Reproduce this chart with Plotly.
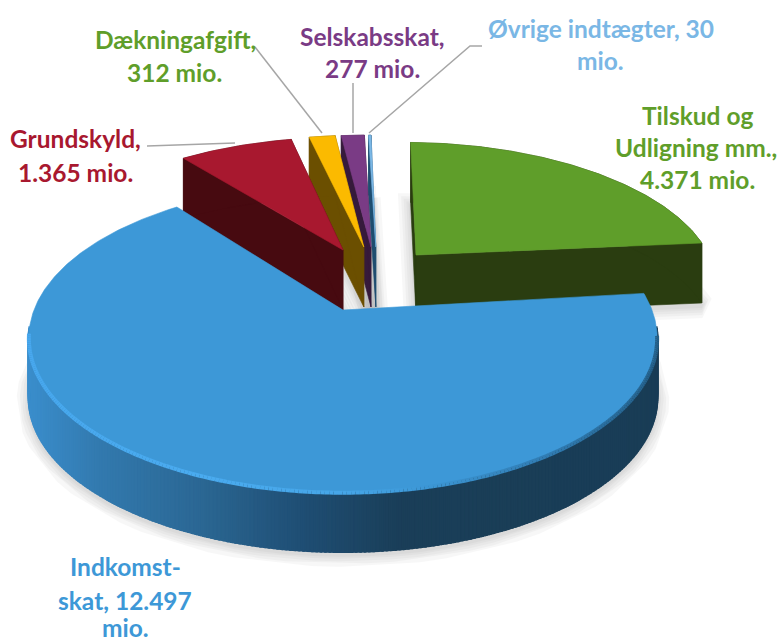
import numpy as np
import plotly.graph_objects as go

categories = ["Tilskud og Udligning mm.", "Indkomstskat", "Grundskyld", "Dækningafgift", "Selskabsskat", "Øvrige indtægter"]
values = [4371, 12497, 1365, 312, 277, 30]
top_colors = ["#5F9E2A", "#3D98D7", "#A8182F", "#FBBA00", "#7A3B85", "#7AB7E5"]
wall_colors = ["#2A3D10", "#193D56", "#470A10", "#6B4F00", "#361A3B", "#1F4E70"]
pull_x = [0.253, 0.0, 0.0, 0.073, 0.098, 0.115]
pull_y = [0.395, 0.0, 0.434, 0.458, 0.458, 0.458]
radius = [1.015, 1.0, 1.03, 1.03, 1.03, 1.03]
turn = [1.2, 0.0, 0.0, 0.0, 0.0, 0.0]
draw_order = [5, 4, 3, 2, 0, 1]

label_lines = [
    ("Tilskud og", 697, 115, "#5F9E2A"), ("Udligning mm.,", 696, 147, "#5F9E2A"), ("4.371 mio.", 697, 179, "#5F9E2A"),
    ("Indkomst-", 125, 566, "#3D98D7"), ("skat, 12.497", 125, 600, "#3D98D7"), ("mio.", 125, 627, "#3D98D7"),
    ("Grundskyld,", 75, 138, "#A8182F"), ("1.365 mio.", 75, 172, "#A8182F"),
    ("Dækningafgift,", 175, 39, "#5F9E2A"), ("312 mio.", 174, 72, "#5F9E2A"),
    ("Selskabsskat,", 372, 36, "#7A3B85"), ("277 mio.", 372, 68, "#7A3B85"),
    ("Øvrige indtægter, 30", 601, 28, "#7AB7E5"), ("mio.", 600, 60, "#7AB7E5"),
]
leaders = [
    ([147, 235], [146, 143]),
    ([255, 322], [47, 133]),
    ([353, 353], [83, 133]),
    ([482, 470, 369], [46, 46, 133]),
]

# projection of the pie plane
X0, Y0, F, G, K, DEPTH = 343, 310, 309, 149, 0.18, 60


def project(px, py, drop=0.0):
    d = 1 + K * py
    return X0 + F * px / d, Y0 - G * py / d + drop


def arc(i, a0, a1, n):
    t = np.radians(np.linspace(a0, a1, n) + turn[i])
    return pull_x[i] + radius[i] * np.sin(t), pull_y[i] + radius[i] * np.cos(t)


def poly(fig, xs, ys, color, line=0.0, lcolor=None, opacity=None):
    fig.add_trace(go.Scatter(
        x=list(xs) + [xs[0]], y=list(ys) + [ys[0]], mode="lines", fill="toself", fillcolor=color,
        line=dict(color=lcolor or color, width=line if line else 0.6),
        opacity=opacity, hoverinfo="skip", showlegend=False))


def mix(stops, x):
    xp = [s[0] for s in stops]
    ch = [np.interp(x, xp, [int(s[1][j:j + 2], 16) for s in stops]) for j in (1, 3, 5)]
    return "#%02X%02X%02X" % tuple(int(round(c)) for c in ch)


blue_side = [(30, "#3A8DCB"), (100, "#3279AE"), (200, "#2B6793"), (300, "#1F4E74"), (400, "#1A3E58"), (700, "#193D56")]
blue_rim = [(30, "#48A8EE"), (200, "#4AABEF"), (343, "#46A6E8"), (420, "#3D98D7"), (560, "#2F79AE"), (660, "#245F88")]

fracs = np.array(values) / sum(values) * 360
starts = np.concatenate([[0], np.cumsum(fracs)[:-1]])

fig = go.Figure()

# soft shadows under every slice
for i in draw_order:
    ax, ay = arc(i, starts[i], starts[i] + fracs[i], 60)
    sx, sy = project(np.r_[pull_x[i], ax], np.r_[pull_y[i], ay], DEPTH + 3)
    for w in (24, 18, 13, 8, 4):
        poly(fig, sx, sy, "#7F7F7F", line=w, lcolor="#7F7F7F", opacity=0.06)

for i in draw_order:
    a0, a1 = starts[i], starts[i] + fracs[i]
    ax, ay = arc(i, a0, a1, max(3, int(fracs[i] * 1.5)))
    cx, cy = pull_x[i], pull_y[i]
    # radial walls (the big slice's are hidden under its own top)
    if i != 1:
        for ex, ey in ((ax[0], ay[0]), (ax[-1], ay[-1])):
            a, b = project(np.array([cx, ex]), np.array([cy, ey]))
            poly(fig, [a[0], a[1], a[1], a[0]], [b[0], b[1], b[1] + DEPTH, b[0] + DEPTH], wall_colors[i])
    # outer wall
    tx, ty = project(ax, ay)
    if i == 1:
        for j in range(len(tx) - 1):
            if ty[j] < Y0 + 15 or ty[j + 1] < Y0 + 15:
                continue
            c = mix(blue_side, (tx[j] + tx[j + 1]) / 2)
            poly(fig, [tx[j], tx[j + 1], tx[j + 1], tx[j]],
                 [ty[j], ty[j + 1], ty[j + 1] + DEPTH, ty[j] + DEPTH], c, line=2.5, lcolor=c)
    else:
        poly(fig, list(tx) + list(tx[::-1]), list(ty) + list((ty + DEPTH)[::-1]), wall_colors[i])
    # top face
    px, py = project(np.r_[cx, ax], np.r_[cy, ay])
    poly(fig, px, py, top_colors[i])
    # bevel highlight on the big slice's front edge
    if i == 1:
        bx, by = arc(i, a0 + 0.5, a1 - 0.5, len(ax))
        hx, hy = project(bx, by, 1.0)
        for j in range(len(hx) - 1):
            if hy[j] < Y0 + 25:
                continue
            fig.add_trace(go.Scatter(
                x=[hx[j], hx[j + 1]], y=[hy[j], hy[j + 1]], mode="lines",
                line=dict(color=mix(blue_rim, (hx[j] + hx[j + 1]) / 2), width=4),
                hoverinfo="skip", showlegend=False))

for lx, ly in leaders:
    fig.add_trace(go.Scatter(x=lx, y=ly, mode="lines", line=dict(color="#A6A6A6", width=1.5),
                             hoverinfo="skip", showlegend=False))

for text, x, y, color in label_lines:
    fig.add_annotation(x=x, y=y, text=f"<b>{text}</b>", showarrow=False, xanchor="center", yanchor="middle",
                       font=dict(family="Lato", size=24.5, color=color))

fig.update_layout(
    width=782, height=641, margin=dict(l=0, r=0, t=0, b=0),
    paper_bgcolor="white", plot_bgcolor="white", showlegend=False,
    xaxis=dict(range=[0, 782], visible=False, fixedrange=True),
    yaxis=dict(range=[641, 0], visible=False, fixedrange=True),
)
fig.write_html("out.html", post_script="document.body.style.margin='0';", config={"displayModeBar": False})
